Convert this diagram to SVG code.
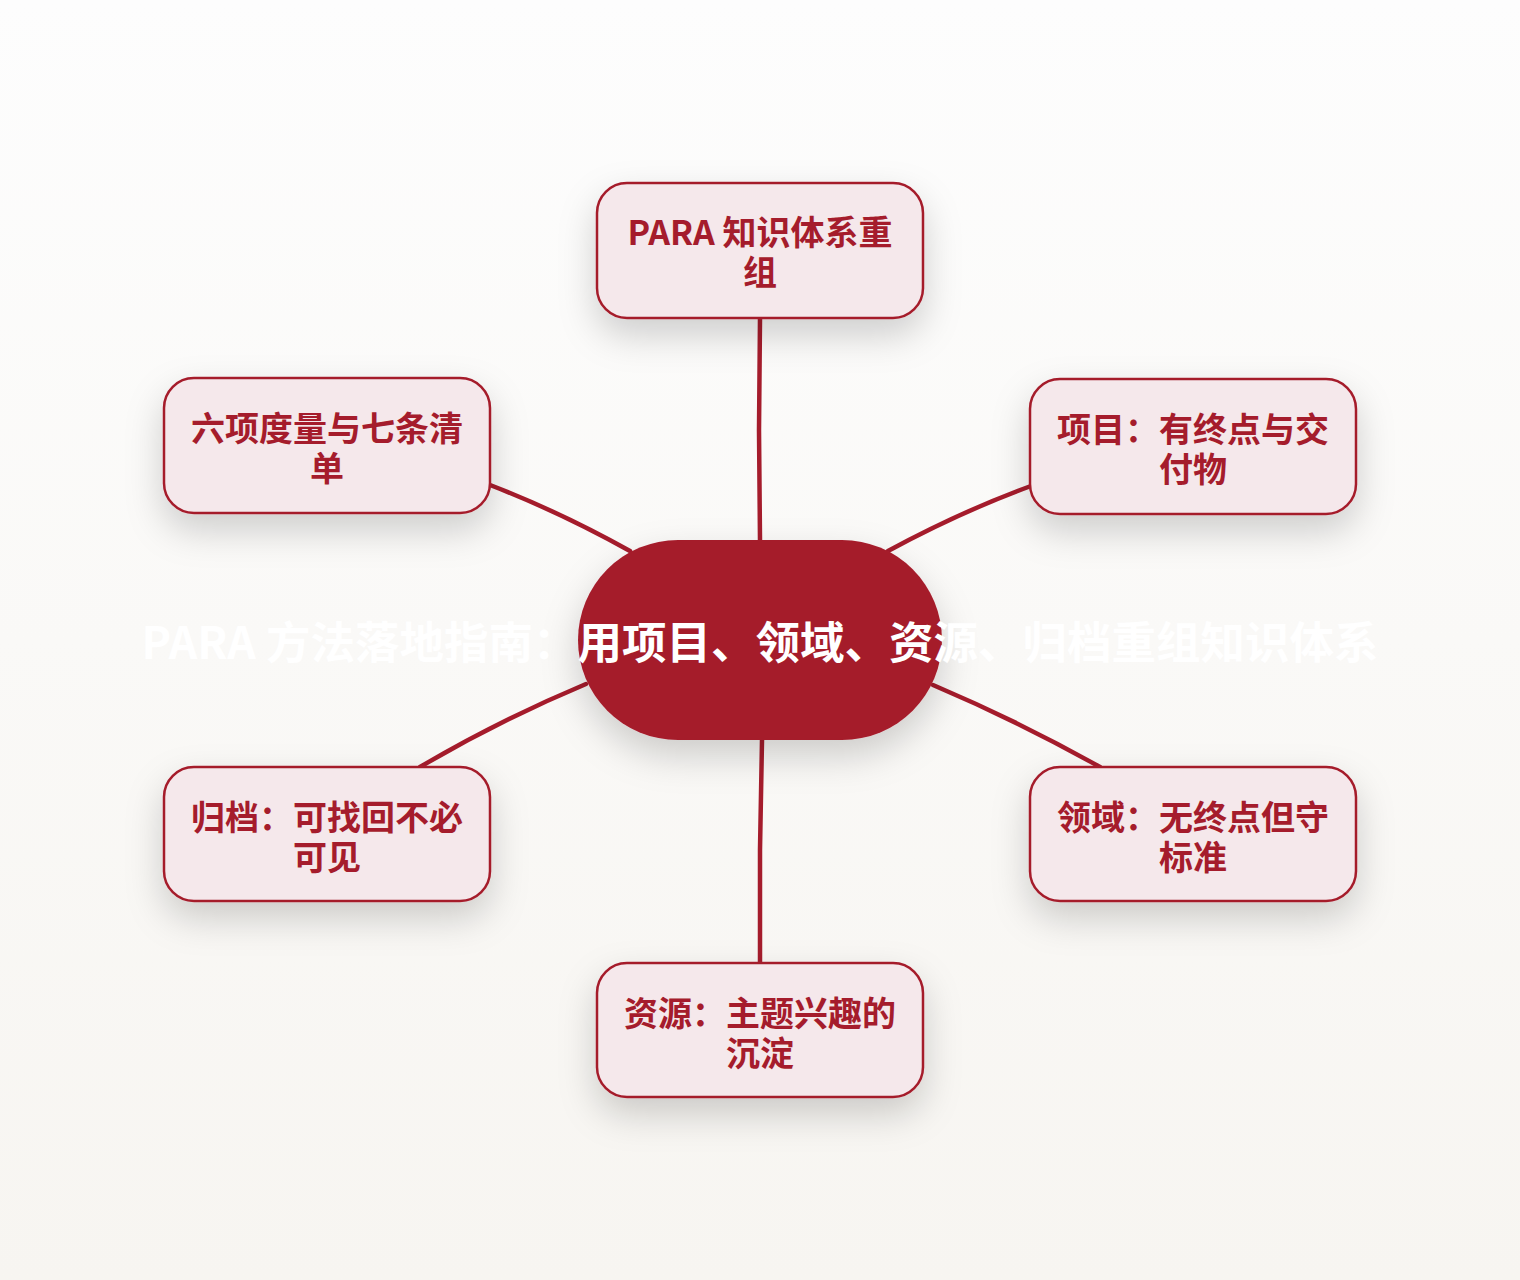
<svg xmlns="http://www.w3.org/2000/svg" width="1520" height="1280" viewBox="0 0 1520 1280">
  <defs>
    <linearGradient id="bg" x1="0" y1="0" x2="0" y2="1">
      <stop offset="0" stop-color="#FDFDFD"/>
      <stop offset="1" stop-color="#F7F5F1"/>
    </linearGradient>
    <filter id="shadow" x="-40%" y="-40%" width="180%" height="200%">
      <feDropShadow dx="0" dy="16" stdDeviation="18" flood-color="#000" flood-opacity="0.18"/>
    </filter>
    <style>
      .node { fill: #F5E8EB; stroke: #A51C2C; stroke-width: 2.5; }
      .label { font-family: "Noto Sans CJK SC", "Noto Sans", sans-serif; font-weight: 700; font-size: 34px; fill: #A51C2C; text-anchor: middle; }
      .edge { fill: none; stroke: #A51C2C; stroke-width: 4.5; stroke-linecap: round; }
      .title { font-family: "Noto Sans CJK SC", "Noto Sans", sans-serif; font-weight: 700; font-size: 44.5px; fill: #FFFFFF; text-anchor: middle; }
    </style>
  </defs>
  <rect x="0" y="0" width="1520" height="1280" fill="url(#bg)"/>

  <g id="connectors">
    <path class="edge" d="M760,318 L759,430 L760,540"/>
    <path class="edge" d="M888,551 Q960,512 1031,486"/>
    <path class="edge" d="M490,485 Q560,512 630,551"/>
    <path class="edge" d="M586,684 Q500,720 420,767"/>
    <path class="edge" d="M933,685 Q1020,722 1100,767"/>
    <path class="edge" d="M762,740 L760,850 L760,963"/>
  </g>

  <g id="center" filter="url(#shadow)">
    <rect x="578" y="540" width="364" height="200" rx="100" ry="100" fill="#A51C2C"/>
  </g>

  <g id="node-top">
    <rect class="node" filter="url(#shadow)" x="597" y="183" width="326" height="135" rx="30"/>
    <text class="label" x="760" y="245">PARA 知识体系重</text>
    <text class="label" x="760" y="285">组</text>
  </g>

  <g id="node-projects">
    <rect class="node" filter="url(#shadow)" x="1030" y="379" width="326" height="135" rx="30"/>
    <text class="label" x="1193" y="442">项目：有终点与交</text>
    <text class="label" x="1193" y="482">付物</text>
  </g>

  <g id="node-areas">
    <rect class="node" filter="url(#shadow)" x="1030" y="767" width="326" height="134" rx="30"/>
    <text class="label" x="1193" y="830">领域：无终点但守</text>
    <text class="label" x="1193" y="870">标准</text>
  </g>

  <g id="node-resources">
    <rect class="node" filter="url(#shadow)" x="597" y="963" width="326" height="134" rx="30"/>
    <text class="label" x="760" y="1026">资源：主题兴趣的</text>
    <text class="label" x="760" y="1066">沉淀</text>
  </g>

  <g id="node-archives">
    <rect class="node" filter="url(#shadow)" x="164" y="767" width="326" height="134" rx="30"/>
    <text class="label" x="327" y="830">归档：可找回不必</text>
    <text class="label" x="327" y="870">可见</text>
  </g>

  <g id="node-metrics">
    <rect class="node" filter="url(#shadow)" x="164" y="378" width="326" height="135" rx="30"/>
    <text class="label" x="327" y="441">六项度量与七条清</text>
    <text class="label" x="327" y="481">单</text>
  </g>

  <g id="title">
    <text class="title" x="760" y="659">PARA 方法落地指南：用项目、领域、资源、归档重组知识体系</text>
  </g>
</svg>
